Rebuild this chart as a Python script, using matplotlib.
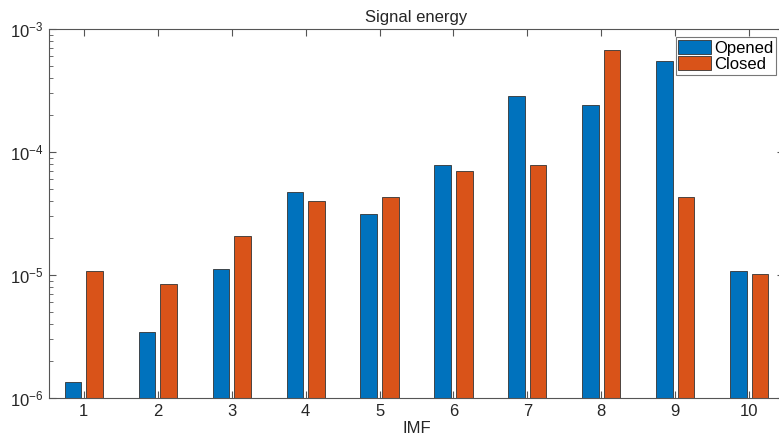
import numpy as np
import matplotlib
matplotlib.use("Agg")
import matplotlib.pyplot as plt

imf = np.arange(1, 11)
opened = [1.35e-6, 3.44e-6, 1.12e-5, 4.70e-5, 3.13e-5, 7.84e-5, 2.84e-4, 2.41e-4, 5.49e-4, 1.07e-5]
closed = [1.07e-5, 8.50e-6, 2.06e-5, 4.00e-5, 4.28e-5, 7.00e-5, 7.80e-5, 6.71e-4, 4.31e-5, 1.01e-5]

plt.rcParams['font.family'] = ['Liberation Sans', 'DejaVu Sans']
plt.rcParams['mathtext.fontset'] = 'custom'
plt.rcParams['mathtext.rm'] = 'Liberation Sans'
plt.rcParams['axes.unicode_minus'] = False

fig = plt.figure(figsize=(7.79, 4.38), dpi=100)
ax = fig.add_axes([49 / 779, 40 / 438, 735 / 779, 369 / 438])

txt = '#262626'
w = 0.225
off = 0.145
ax.bar(imf - off, opened, w, color='#0072BD', edgecolor='#333333', linewidth=0.6, label='Opened', log=True)
ax.bar(imf + off, closed, w, color='#D95319', edgecolor='#333333', linewidth=0.6, label='Closed', log=True)

ax.set_yscale('log')
ax.set_ylim(1e-6, 1e-3)
ax.set_xlim(0.53, 10.47)
ax.set_xticks(imf)

ax.tick_params(axis='both', which='both', direction='in', top=True, right=True,
               colors='#555555', labelcolor=txt, labelsize=12, pad=4)
ax.tick_params(which='major', length=5)
ax.tick_params(which='minor', length=3)
ax.tick_params(axis='x', which='minor', bottom=False, top=False)
for s in ax.spines.values():
    s.set_color('#555555')
    s.set_linewidth(0.8)

ax.set_title('Signal energy', fontsize=12, color=txt, pad=5)
ax.set_xlabel('IMF', fontsize=12, color=txt, labelpad=2)

leg = ax.legend(loc='upper right', fontsize=12, fancybox=False, framealpha=1,
                edgecolor='#777777', borderpad=0.15, labelspacing=0.05,
                handlelength=2.0, handleheight=0.9, handletextpad=0.15, borderaxespad=0.5)
leg.get_frame().set_linewidth(0.8)

fig.savefig('out.png', dpi=100)
